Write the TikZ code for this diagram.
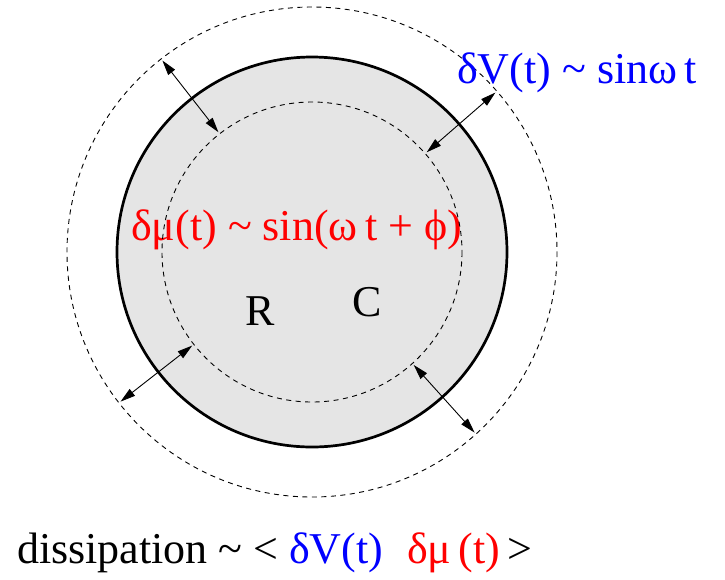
\documentclass[tikz,border=0pt]{standalone}
\usepackage{fontspec}
\setmainfont{Liberation Serif}
\usetikzlibrary{arrows.meta,calc}
\definecolor{discgray}{RGB}{229,229,229}
\begin{document}
\begin{tikzpicture}[x=1pt,y=-1pt,
  disc/.style={draw=black,line width=2.7pt,fill=discgray},
  shell/.style={draw=black,line width=0.9pt,dash pattern=on 5pt off 4.5pt},
  gap/.style={line width=0.9pt,{Triangle[length=15pt,width=8.5pt]}-{Triangle[length=15pt,width=8.5pt]}},
  lbl/.style={inner sep=0pt,anchor=base west,font=\fontsize{44}{44}\selectfont},
]
\useasboundingbox (0,0) rectangle (725,579);
\coordinate (c) at (312,252);
\draw[shell] (c) circle[radius=245];
\draw[disc] (c) circle[radius=195];
\node[lbl,text=red] (dmu) at (131,240) {δμ(t) \textasciitilde{} sin(ω\,t + ϕ)};
\node[lbl] (r) at (245,325) {R};
\node[lbl] (cc) at (352,316) {C};
\draw[shell] (c) circle[radius=150];
\coordinate (a1i) at ($(c)+(-128:152)$);
\coordinate (a1o) at ($(c)+(-128:243)$);
\coordinate (a2i) at ($(c)+(-41:152)$);
\coordinate (a2o) at ($(c)+(-41:243)$);
\coordinate (a3i) at ($(c)+(142:152)$);
\coordinate (a3o) at ($(c)+(142:243)$);
\coordinate (a4i) at ($(c)+(48:152)$);
\coordinate (a4o) at ($(c)+(48:243)$);
\draw[gap] (a1o) -- (a1i);
\draw[gap] (a2o) -- (a2i);
\draw[gap] (a3o) -- (a3i);
\draw[gap] (a4o) -- (a4i);
\node[lbl,text=blue] (dv) at (457,83) {δV(t) \textasciitilde{} sinω\,t};
\node[lbl] (diss) at (17,563) {dissipation \textasciitilde{} <};
\node[lbl,text=blue] (dv2) at (289,563) {δV(t)};
\node[lbl,text=red] (dmu2) at (407,563) {δμ\,(t)};
\node[lbl] (gt) at (507,563) {>};
\end{tikzpicture}
\end{document}
